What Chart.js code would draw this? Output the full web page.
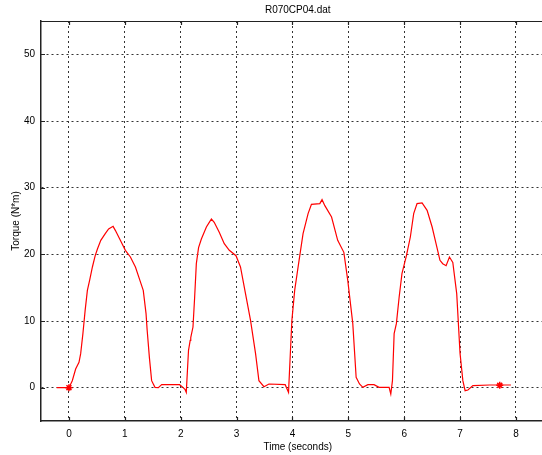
<!DOCTYPE html>
<html><head><meta charset="utf-8">
<script src="https://cdn.jsdelivr.net/npm/chart.js@4"></script>
<style>html,body{margin:0;padding:0;background:#fff;overflow:hidden;width:542px;height:455px}canvas{display:block}</style>
</head><body>
<canvas id="c" width="560" height="455"></canvas>
<script>
const chartTitle = 'R070CP04.dat';
const xLabel = 'Time (seconds)';
const yLabel = 'Torque (N*m)';
const timeSeconds = [-0.22,0,0.06,0.12,0.18,0.21,0.25,0.29,0.33,0.37,0.42,0.47,0.51,0.57,0.65,0.71,0.79,0.83,0.92,1.01,1.10,1.19,1.27,1.33,1.38,1.40,1.44,1.48,1.54,1.60,1.66,1.98,2.04,2.08,2.10,2.14,2.17,2.18,2.22,2.25,2.28,2.32,2.37,2.46,2.52,2.55,2.60,2.69,2.78,2.87,2.99,3.07,3.16,3.25,3.34,3.40,3.49,3.58,3.87,3.93,3.99,4.04,4.11,4.19,4.28,4.34,4.49,4.53,4.58,4.70,4.81,4.92,4.99,5.08,5.14,5.20,5.26,5.35,5.46,5.55,5.73,5.76,5.79,5.82,5.86,5.91,5.96,6.04,6.11,6.17,6.23,6.32,6.41,6.50,6.57,6.64,6.69,6.75,6.81,6.87,6.94,7.00,7.05,7.09,7.14,7.23,7.53,7.91];
const torqueNm = [0,0,1.05,2.8,3.8,5.1,8.1,11.6,14.6,16.1,18.1,19.8,20.8,22.1,23.1,23.8,24.2,23.6,22.1,20.6,19.6,18.1,16.1,14.6,11.1,8.6,4.5,1.05,0.05,0.0,0.45,0.45,0.05,-0.3,-0.7,5.6,7.1,7.5,9.1,13.6,18.6,21.0,22.3,24.1,24.9,25.3,24.8,23.3,21.6,20.6,19.8,18.1,14.1,10.1,5.1,1.05,0.15,0.55,0.45,-0.7,10.1,14.6,18.6,23.1,26.1,27.5,27.6,28.2,27.3,25.6,22.1,20.3,16.1,9.6,1.55,0.55,0.05,0.45,0.45,0.05,0.05,-0.95,1.05,8.1,9.6,13.6,17.1,19.8,22.6,26.1,27.6,27.7,26.6,24.1,21.6,19.1,18.6,18.3,19.6,18.8,14.1,5.1,1.05,-0.45,-0.35,0.3,0.4,0.4];
const markerTimes = [0, 7.71];
const markerTorque = [0, 0.35];
const xTickValues = [0,1,2,3,4,5,6,7,8];
const yTickValues = [0,10,20,30,40,50];
const xMin = -0.5, xMax = 8.69, yMin = -5, yMax = 55;

const font = {family: "'Liberation Sans', Arial, Helvetica, sans-serif", size: 10, weight: 'normal'};

const framePlugin = {
  id: 'frame',
  afterDatasetsDraw(chart) {
    const {ctx, chartArea: a, scales: {x, y}} = chart;
    ctx.save();
    ctx.strokeStyle = '#222';
    ctx.lineWidth = 1.2;
    ctx.beginPath();
    ctx.moveTo(a.left, a.top + 0.5); ctx.lineTo(a.right, a.top + 0.5);
    xTickValues.forEach(v => {
      const px = Math.round(x.getPixelForValue(v)) + 0.5;
      ctx.moveTo(px, a.top); ctx.lineTo(px, a.top + 4);
      ctx.moveTo(px, a.bottom); ctx.lineTo(px, a.bottom - 4);
    });
    yTickValues.forEach(v => {
      const py = Math.round(y.getPixelForValue(v)) + 0.5;
      ctx.moveTo(a.left, py); ctx.lineTo(a.left + 4, py);
    });
    ctx.stroke();
    ctx.restore();
  }
};

new Chart(document.getElementById('c'), {
  type: 'scatter',
  data: {
    datasets: [{
      data: timeSeconds.map((t, i) => ({x: t, y: torqueNm[i]})),
      showLine: true,
      borderColor: '#ff0000',
      borderWidth: 1.2,
      pointRadius: 0,
      tension: 0
    }, {
      data: markerTimes.map((t, i) => ({x: t, y: markerTorque[i]})),
      showLine: false,
      pointStyle: 'star',
      pointRadius: 3.5,
      borderColor: '#ff0000',
      backgroundColor: '#ff0000',
      borderWidth: 1.5
    }]
  },
  options: {
    responsive: false,
    animation: false,
    layout: {padding: 0},
    plugins: {
      legend: {display: false},
      tooltip: {enabled: false},
      title: {display: true, text: chartTitle, fullSize: false, color: '#000', font: font, padding: {top: 4, bottom: 5}}
    },
    scales: {
      x: {
        type: 'linear', min: xMin, max: xMax,
        afterBuildTicks: s => { s.ticks = xTickValues.map(v => ({value: v})); },
        afterFit: s => { s.height = 34; },
        ticks: {color: '#000', font: font, padding: 7, maxRotation: 0, autoSkip: false, callback: v => String(v)},
        grid: {color: '#333', lineWidth: 1, drawTicks: false},
        border: {display: true, color: '#222', width: 1.5, dash: [2, 3]},
        title: {display: true, text: xLabel, color: '#000', font: font, padding: {top: 0, bottom: 2}}
      },
      y: {
        type: 'linear', min: yMin, max: yMax,
        afterBuildTicks: s => { s.ticks = yTickValues.map(v => ({value: v})); },
        afterFit: s => { s.width = 41; },
        ticks: {color: '#000', font: font, padding: 6, autoSkip: false, callback: v => String(v)},
        grid: {color: '#333', lineWidth: 1, drawTicks: false},
        border: {display: true, color: '#222', width: 1.5, dash: [2, 3]},
        title: {display: true, text: yLabel, color: '#000', font: font, padding: {top: 10, bottom: 0}}
      }
    }
  },
  plugins: [framePlugin]
});
</script>
</body></html>
